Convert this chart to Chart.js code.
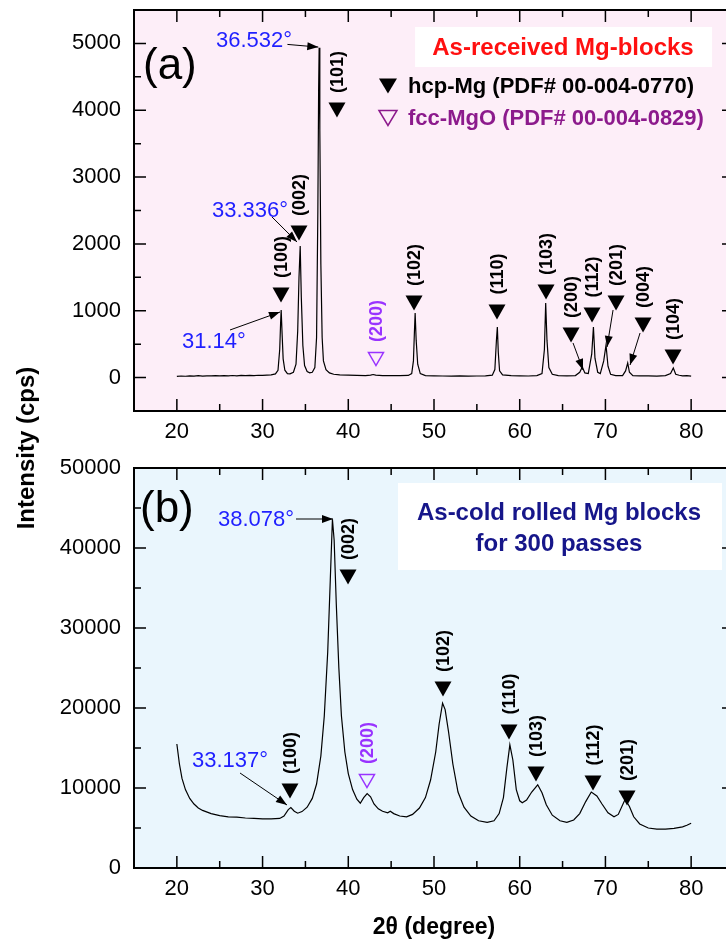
<!DOCTYPE html>
<html>
<head>
<meta charset="utf-8">
<script src="https://cdn.jsdelivr.net/npm/chart.js@4.4.1/dist/chart.umd.min.js"></script>
<style>
html, body { margin: 0; padding: 0; background: #fff; overflow: hidden; width: 726px; height: 945px; }
#wrapA { position: absolute; left: 0; top: 0; }
#wrapB { position: absolute; left: 0; top: 455px; }
#ytitle {
  position: absolute; left: -123px; top: 433px; width: 300px; height: 30px; line-height: 30px;
  text-align: center; transform: rotate(-90deg);
  font: bold 24px 'Liberation Sans', Arial, sans-serif; color: #000;
}
</style>
</head>
<body>
<div id="wrapA"><canvas id="xrdA" width="740" height="460"></canvas></div>
<div id="wrapB"><canvas id="xrdB" width="740" height="490"></canvas></div>
<div id="ytitle">Intensity (cps)</div>

<script>
// ---- axis ticks ----
const xTicks = [20, 30, 40, 50, 60, 70, 80];
const xMinor = [25, 35, 45, 55, 65, 75];
const yTicksA = [0, 1000, 2000, 3000, 4000, 5000];
const yMinorA = [500, 1500, 2500, 3500, 4500];
const yTicksB = [0, 10000, 20000, 30000, 40000, 50000];
const yMinorB = [5000, 15000, 25000, 35000, 45000];

// ---- (a) as-received pattern ----
const twoThetaA = [20.0, 20.5, 21.0, 21.5, 22.0, 22.5, 23.0, 23.5, 24.0, 24.5, 25.0, 25.5, 26.0, 26.5, 27.0, 27.5,
  28.0, 28.5, 29.0, 29.5, 30.0, 30.5, 31.0, 31.5, 31.8, 32.0, 32.1, 32.17, 32.28, 32.4, 32.6, 32.9, 33.2, 33.6,
  33.9, 34.1, 34.25, 34.39, 34.52, 34.7, 34.9, 35.2, 35.5, 35.8, 36.1, 36.3, 36.45, 36.54, 36.6, 36.68, 36.8,
  36.95, 37.1, 37.4, 37.8, 38.3, 39.0, 40.0, 41.0, 42.0, 42.6, 42.9, 43.2, 44.0, 45.0, 46.0, 47.0, 47.4, 47.6,
  47.72, 47.8, 47.92, 48.1, 48.4, 49.0, 50.0, 51.0, 52.0, 53.0, 54.0, 55.0, 56.0, 56.8, 57.1, 57.28, 57.39,
  57.5, 57.65, 58.0, 59.0, 60.0, 61.0, 62.0, 62.6, 62.88, 63.03, 63.18, 63.4, 63.8, 64.5, 65.5, 66.5, 67.0,
  67.3, 67.6, 68.0, 68.4, 68.6, 68.78, 69.1, 69.4, 69.8, 70.07, 70.3, 70.6, 71.2, 72.0, 72.35, 72.6, 72.8,
  73.2, 74.0, 75.0, 76.0, 77.0, 77.6, 77.92, 78.2, 78.6, 79.0, 79.5, 80.0];
const intensityA = [18, 24, 20, 27, 22, 28, 23, 26, 25, 30, 26, 29, 25, 31, 27, 32,
  28, 33, 30, 35, 32, 36, 40, 55, 110, 420, 800, 1010, 650, 280, 110, 60, 55, 80,
  200, 700, 1500, 1970, 1200, 480, 180, 90, 70, 80, 150, 600, 2500, 4300, 4935, 3700, 1700,
  600, 250, 120, 70, 50, 40, 36, 32, 30, 36, 46, 36, 30, 28, 28, 32, 60, 250,
  700, 965, 560, 200, 60, 30, 26, 24, 22, 26, 22, 24, 26, 36, 120, 550, 757,
  380, 100, 40, 28, 26, 24, 30, 60, 420, 1115, 560, 150, 50, 30, 26, 30, 80,
  158, 70, 60, 350, 757, 290, 80, 60, 250, 488, 170, 50, 30, 30, 100, 218, 80,
  30, 26, 26, 22, 30, 60, 143, 50, 35, 26, 30, 22];

// ---- (b) cold rolled, 300 passes ----
const twoThetaB = [20.0, 20.3, 20.6, 21.0, 21.5, 22.0, 22.5, 23.0, 24.0, 25.0, 26.0, 27.0, 28.0, 29.0, 30.0,
  31.0, 32.0, 32.5, 33.0, 33.3, 33.7, 34.1, 34.6, 35.2, 35.8, 36.3, 36.8, 37.2, 37.6, 37.9, 38.15, 38.35,
  38.6, 38.9, 39.2, 39.6, 40.0, 40.5, 41.0, 41.4, 41.8, 42.2, 42.6, 43.0, 43.5, 44.0, 44.6, 44.9, 45.3, 46.0,
  46.8, 47.5, 48.3, 49.0, 49.6, 50.2, 50.6, 51.0, 51.3, 51.7, 52.2, 52.8, 53.5, 54.3, 55.2, 56.2, 57.0, 57.6,
  58.1, 58.5, 58.85, 59.2, 59.6, 60.0, 60.3, 60.8, 61.4, 62.1, 62.6, 63.1, 63.8, 64.7, 65.5, 66.3, 67.0, 67.7,
  68.35, 69.0, 69.6, 70.3, 71.0, 71.5, 72.3, 72.8, 73.3, 74.0, 75.0, 76.0, 77.0, 78.0, 79.0, 79.5, 80.0];
const intensityB = [15500, 13000, 11200, 9800, 8700, 8000, 7500, 7200, 6800, 6550, 6400, 6350, 6250, 6200, 6150,
  6150, 6200, 6500, 7300, 7550, 7100, 6850, 7050, 7600, 8700, 10500, 14000, 19000, 27000, 36000, 43600, 41000,
  33000, 25000, 19000, 14500, 11800, 9800, 8600, 8100, 8800, 9300, 8900, 8000, 7400, 7100, 6900, 7100, 6800, 6500,
  6400, 6700, 7500, 8800, 11000, 14500, 18000, 20600, 19800, 17000, 13000, 9500, 7600, 6500, 5900, 5700, 5900, 6800,
  8800, 12500, 15400, 13500, 9800, 8400, 8150, 8500, 9500, 10400, 9400, 7900, 6600, 5900, 5700, 6000, 6800, 8300,
  9500, 9000, 8000, 6900, 6400, 6700, 8600, 7700, 6400, 5500, 5000, 4850, 4850, 4950, 5150, 5350, 5600];

// ---- peak markers ----
const hklA = ['(100)', '(002)', '(101)', '(200)', '(102)', '(110)', '(103)', '(200)', '(112)', '(201)', '(004)', '(104)'];
const phaseA = ['Mg', 'Mg', 'Mg', 'MgO', 'Mg', 'Mg', 'Mg', 'Mg', 'Mg', 'Mg', 'Mg', 'Mg'];
const markAngleA = [32.15, 34.25, 38.68, 43.23, 47.67, 57.35, 63.07, 65.99, 68.44, 71.24, 74.39, 77.89];
const markCpsA = [1236, 2163, 4004, 278, 1116, 981, 1281, 637, 936, 1116, 787, 308];

const hklB = ['(100)', '(002)', '(200)', '(102)', '(110)', '(103)', '(112)', '(201)'];
const phaseB = ['Mg', 'Mg', 'MgO', 'Mg', 'Mg', 'Mg', 'Mg', 'Mg'];
const markAngleB = [33.2, 39.97, 42.18, 51.05, 58.75, 61.9, 68.55, 72.52];
const markCpsB = [9625, 36375, 10875, 22375, 17000, 11750, 10625, 8750];

const FONT = "'Liberation Sans', Arial, sans-serif";
const BLUE = '#1f1fff';
const VIOLET = '#9933ff';

function tri(ctx, cx, cy, w, h, filled, color) {
  ctx.beginPath();
  ctx.moveTo(cx - w / 2, cy - h / 2);
  ctx.lineTo(cx + w / 2, cy - h / 2);
  ctx.lineTo(cx, cy + h / 2);
  ctx.closePath();
  if (filled) { ctx.fillStyle = color; ctx.fill(); }
  else { ctx.strokeStyle = color; ctx.lineWidth = 1.5; ctx.stroke(); }
}

function arrow(ctx, x1, y1, x2, y2) {
  ctx.strokeStyle = '#000';
  ctx.lineWidth = 1;
  ctx.beginPath(); ctx.moveTo(x1, y1); ctx.lineTo(x2, y2); ctx.stroke();
  const a = Math.atan2(y2 - y1, x2 - x1), L = 11, W = 4;
  ctx.beginPath();
  ctx.moveTo(x2, y2);
  ctx.lineTo(x2 - L * Math.cos(a) + W * Math.sin(a), y2 - L * Math.sin(a) - W * Math.cos(a));
  ctx.lineTo(x2 - L * Math.cos(a) - W * Math.sin(a), y2 - L * Math.sin(a) + W * Math.cos(a));
  ctx.closePath();
  ctx.fillStyle = '#000';
  ctx.fill();
}

// background, frame and inward ticks on all four sides
const framePlugin = {
  id: 'frame',
  beforeDraw(chart, args, o) {
    const {ctx, chartArea: a} = chart;
    ctx.save();
    ctx.fillStyle = o.bg;
    ctx.fillRect(a.left, a.top, a.right - a.left, a.bottom - a.top);
    ctx.restore();
  },
  afterDraw(chart, args, o) {
    const {ctx, chartArea: a, scales: {x, y}} = chart;
    ctx.save();
    ctx.strokeStyle = '#000';
    ctx.lineWidth = 1.5;
    const xt = (vals, len) => vals.forEach(v => {
      const p = x.getPixelForValue(v);
      ctx.beginPath();
      ctx.moveTo(p, a.bottom); ctx.lineTo(p, a.bottom - len);
      ctx.moveTo(p, a.top); ctx.lineTo(p, a.top + len);
      ctx.stroke();
    });
    const yt = (vals, len) => vals.forEach(v => {
      const p = y.getPixelForValue(v);
      ctx.beginPath();
      ctx.moveTo(a.left, p); ctx.lineTo(a.left + len, p);
      ctx.moveTo(a.right, p); ctx.lineTo(a.right - len, p);
      ctx.stroke();
    });
    xt(xTicks, 12); xt(xMinor, 7);
    yt(o.yMajor, 12); yt(o.yMinor, 7);
    ctx.lineWidth = 2;
    ctx.strokeRect(a.left, a.top, a.right - a.left, a.bottom - a.top);
    ctx.restore();
  }
};

// peak markers, callouts, legend box and panel letter
const notesPlugin = {
  id: 'notes',
  afterDatasetsDraw(chart, args, o) {
    const {ctx, scales: {x, y}} = chart;
    const X = v => x.getPixelForValue(v), Y = v => y.getPixelForValue(v);
    ctx.save();

    // legend box
    const b = o.box;
    ctx.fillStyle = '#fff';
    ctx.fillRect(X(b.x0), Y(b.y0), X(b.x1) - X(b.x0), Y(b.y1) - Y(b.y0));
    b.lines.forEach(l => {
      ctx.font = l.font;
      ctx.fillStyle = l.color;
      ctx.textAlign = l.align;
      ctx.textBaseline = 'alphabetic';
      ctx.fillText(l.text, X(l.x), Y(l.y));
      if (l.mark) tri(ctx, X(l.mark.x), Y(l.mark.y), 18, 15, l.mark.filled, l.mark.color);
    });

    // panel letter
    ctx.font = '44px ' + FONT;
    ctx.fillStyle = '#000';
    ctx.textAlign = 'left';
    ctx.fillText(o.letter.text, X(o.letter.x), Y(o.letter.y));

    // peak angle callouts
    ctx.font = '22px ' + FONT;
    o.callouts.forEach(c => {
      ctx.fillStyle = BLUE;
      ctx.textAlign = 'left';
      ctx.fillText(c.text, X(c.x), Y(c.y));
      arrow(ctx, X(c.from[0]), Y(c.from[1]), X(c.to[0]), Y(c.to[1]));
    });
    (o.arrows || []).forEach(r => arrow(ctx, X(r[0]), Y(r[1]), X(r[2]), Y(r[3])));

    // hkl markers
    o.hkl.forEach((t, i) => {
      const px = X(o.angle[i]), py = Y(o.cps[i]);
      const mgo = o.phase[i] === 'MgO';
      if (mgo) tri(ctx, px, py, 15, 13, false, VIOLET);
      else tri(ctx, px, py, 17, 15, true, '#000');
      ctx.save();
      ctx.translate(px + 1, py - 38);
      ctx.rotate(-Math.PI / 2);
      ctx.font = 'bold 18px ' + FONT;
      ctx.fillStyle = mgo ? VIOLET : '#000';
      ctx.textAlign = 'center';
      ctx.textBaseline = 'middle';
      ctx.fillText(t, 0, 0);
      ctx.restore();
    });
    ctx.restore();
  }
};

function makeChart(id, xs, ys, yMin, yMax, yTicks, yMinor, bg, showTitle, xAxisHeight, top, notes) {
  return new Chart(document.getElementById(id), {
    type: 'line',
    data: {
      datasets: [{
        data: xs.map((t, i) => ({x: t, y: ys[i]})),
        borderColor: '#000',
        borderWidth: 1.2,
        pointRadius: 0,
        tension: 0
      }]
    },
    options: {
      responsive: false,
      animation: false,
      devicePixelRatio: 1,
      layout: {padding: {left: 0, top: top, right: 6, bottom: 0}},
      plugins: {
        legend: {display: false},
        tooltip: {enabled: false},
        frame: {bg: bg, yMajor: yTicks, yMinor: yMinor},
        notes: notes
      },
      scales: {
        x: {
          type: 'linear', min: 15, max: 85,
          grid: {display: false, drawTicks: false},
          border: {display: false},
          afterBuildTicks: s => { s.ticks = xTicks.map(v => ({value: v})); },
          afterFit: s => { s.height = xAxisHeight; s.paddingLeft = s.paddingRight = 0; },
          ticks: {padding: 8, color: '#000', font: {family: FONT, size: 22}, callback: v => String(v), maxRotation: 0},
          title: {display: showTitle, text: '2θ (degree)', color: '#000',
                  font: {family: FONT, size: 23, weight: 'bold'}, padding: {top: 0, bottom: 4}}
        },
        y: {
          min: yMin, max: yMax,
          grid: {display: false, drawTicks: false},
          border: {display: false},
          afterBuildTicks: s => { s.ticks = yTicks.map(v => ({value: v})); },
          afterFit: s => { s.width = 134; s.paddingTop = s.paddingBottom = 0; },
          ticks: {padding: 13, color: '#000', font: {family: FONT, size: 22}, callback: v => String(v)}
        }
      }
    },
    plugins: [framePlugin, notesPlugin]
  });
}

makeChart('xrdA', twoThetaA, intensityA, -500, 5500, yTicksA, yMinorA, '#fdeef8', false, 49, 10, {
  hkl: hklA, phase: phaseA, angle: markAngleA, cps: markCpsA,
  letter: {text: '(a)', x: 16.05, y: 4470},
  callouts: [
    {text: '36.532°', x: 24.57, y: 4947, from: [32.9, 4985], to: [36.5, 4945]},
    {text: '33.336°', x: 24.1, y: 2403, from: [31.1, 2403], to: [34.02, 2029]},
    {text: '31.14°', x: 20.6, y: 443, from: [26.2, 712], to: [32.03, 981]}
  ],
  arrows: [[66.22, 518, 67.39, 114], [70.89, 1011, 70.19, 458], [74.04, 667, 72.87, 188]],
  box: {
    x0: 47.79, x1: 82.44, y0: 5246, y1: 4647,
    lines: [
      {text: 'As-received Mg-blocks', x: 65.05, y: 4827, align: 'center', color: '#ff1010', font: 'bold 24px ' + FONT},
      {text: 'hcp-Mg (PDF# 00-004-0770)', x: 46.97, y: 4258, align: 'left', color: '#000', font: 'bold 22px ' + FONT,
       mark: {x: 44.63, y: 4363, filled: true, color: '#000'}},
      {text: 'fcc-MgO (PDF# 00-004-0829)', x: 46.97, y: 3780, align: 'left', color: '#8c1a8c', font: 'bold 22px ' + FONT,
       mark: {x: 44.63, y: 3884, filled: false, color: '#8c1a8c'}}
    ]
  }
});

makeChart('xrdB', twoThetaB, intensityB, 0, 50000, yTicksB, yMinorB, '#eaf6fd', true, 77, 13, {
  hkl: hklB, phase: phaseB, angle: markAngleB, cps: markCpsB,
  letter: {text: '(b)', x: 15.7, y: 43250},
  callouts: [
    {text: '38.078°', x: 24.8, y: 42750, from: [33.9, 43625], to: [38.22, 43625]},
    {text: '33.137°', x: 21.77, y: 12625, from: [27.37, 11875], to: [32.85, 7875]}
  ],
  box: {
    x0: 45.8, x1: 83.6, y0: 48125, y1: 37250,
    lines: [
      {text: 'As-cold rolled Mg blocks', x: 64.58, y: 43500, align: 'center', color: '#16168a', font: 'bold 24px ' + FONT},
      {text: 'for 300 passes', x: 64.58, y: 39625, align: 'center', color: '#16168a', font: 'bold 24px ' + FONT}
    ]
  }
});
</script>
</body>
</html>
